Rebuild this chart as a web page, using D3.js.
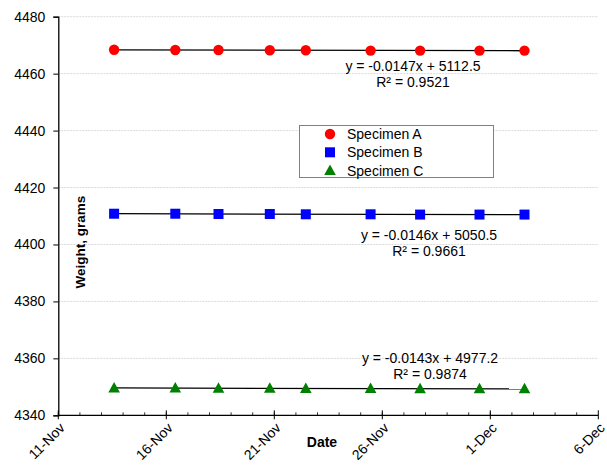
<!DOCTYPE html>
<html>
<head>
<meta charset="utf-8">
<script src="https://cdn.jsdelivr.net/npm/d3@7"></script>
<style>
  body { margin: 0; background: #fff; }
  svg { display: block; font-family: "Liberation Sans", Arial, sans-serif; }
</style>
</head>
<body>
<div id="chart"></div>
<script>
// measurement dates (with time of day)
const dates = ["2020-11-13T14:00", "2020-11-16T10:00", "2020-11-18T10:00", "2020-11-20T19:00",
  "2020-11-22T11:00", "2020-11-25T11:00", "2020-11-27T18:00", "2020-11-30T12:00", "2020-12-02T14:00"];

const specimenA = [4468.4, 4468.3, 4468.3, 4468.2, 4468.2, 4468.1, 4468.1, 4468.1, 4468.1];
const specimenB = [4410.8, 4410.8, 4410.7, 4410.7, 4410.6, 4410.6, 4410.5, 4410.5, 4410.5];
const specimenC = [4349.6, 4349.6, 4349.5, 4349.5, 4349.4, 4349.4, 4349.3, 4349.3, 4349.3];

const seriesNames = ["Specimen A", "Specimen B", "Specimen C"];
const equations = [
  ["y = -0.0147x + 5112.5", "R\u00b2 = 0.9521"],
  ["y = -0.0146x + 5050.5", "R\u00b2 = 0.9661"],
  ["y = -0.0143x + 4977.2", "R\u00b2 = 0.9874"]
];
const yTicks = [4340, 4360, 4380, 4400, 4420, 4440, 4460, 4480];
const xTickDates = ["2020-11-11", "2020-11-16", "2020-11-21", "2020-11-26", "2020-12-01", "2020-12-06"];

const width = 607;
const height = 468;
const parse = d3.timeParse("%Y-%m-%dT%H:%M");
const parseDay = d3.timeParse("%Y-%m-%d");

const x = d3.scaleTime()
  .domain([parseDay("2020-11-11"), parseDay("2020-12-06")])
  .range([58.3, 598.3]);
const y = d3.scaleLinear()
  .domain([4340, 4480])
  .range([415.3, 16.7]);

const svg = d3.select("#chart").append("svg")
  .attr("width", width)
  .attr("height", height);

// gridlines
svg.append("g")
  .selectAll("line")
  .data(yTicks.filter(d => d !== 4340))
  .join("line")
    .attr("x1", x.range()[0])
    .attr("x2", x.range()[1])
    .attr("y1", d => y(d))
    .attr("y2", d => y(d))
    .attr("stroke", "#d9d9d9")
    .attr("stroke-width", 1)
    .attr("stroke-dasharray", "2,1");

// y axis
const yAxis = svg.append("g")
  .attr("transform", `translate(${x.range()[0]},0)`)
  .call(d3.axisLeft(y).tickValues(yTicks).tickSize(5).tickPadding(8).tickFormat(d3.format("d")));
yAxis.select(".domain").attr("stroke", "#000").attr("stroke-width", 1.3);
yAxis.selectAll(".tick line").attr("stroke", "#000");
yAxis.selectAll("text").style("font-size", "14px").attr("fill", "#000");

// x axis: minor ticks each day (inside), major every 5 days (crossing)
const xg = svg.append("g").attr("transform", `translate(0,${y.range()[0]})`);
xg.selectAll("line.minor")
  .data(d3.timeDay.range(x.domain()[0], x.domain()[1]))
  .join("line")
    .attr("class", "minor")
    .attr("x1", d => x(d)).attr("x2", d => x(d))
    .attr("y1", 0).attr("y2", -3)
    .attr("stroke", "#000").attr("stroke-width", 0.8);
xg.append("line")
  .attr("x1", x.range()[0]).attr("x2", x.range()[1])
  .attr("stroke", "#000").attr("stroke-width", 1.3);
const majors = xTickDates.map(parseDay);
xg.selectAll("line.major")
  .data(majors)
  .join("line")
    .attr("class", "major")
    .attr("x1", d => x(d)).attr("x2", d => x(d))
    .attr("y1", -5).attr("y2", 4)
    .attr("stroke", "#000").attr("stroke-width", 1);
xg.selectAll("text")
  .data(majors)
  .join("text")
    .attr("transform", d => `translate(${x(d) + 4},${10}) rotate(-45)`)
    .attr("text-anchor", "end")
    .attr("dy", "0.35em")
    .style("font-size", "14px")
    .text(d3.timeFormat("%-d-%b"));

// axis titles
svg.append("text")
  .attr("x", 322).attr("y", 447)
  .attr("text-anchor", "middle")
  .style("font-size", "14px").style("font-weight", "bold")
  .text("Date");
svg.append("text")
  .attr("transform", "translate(85,242) rotate(-90)")
  .attr("text-anchor", "middle")
  .style("font-size", "13.5px").style("font-weight", "bold")
  .text("Weight, grams");

const allSeries = [specimenA, specimenB, specimenC].map((vals, i) => ({
  name: seriesNames[i],
  points: vals.map((v, j) => ({ date: parse(dates[j]), value: v }))
}));

// trendlines (least squares fit over the points)
allSeries.forEach(s => {
  const xs = s.points.map(p => +p.date);
  const ys = s.points.map(p => p.value);
  const mx = d3.mean(xs), my = d3.mean(ys);
  const slope = d3.sum(xs, (v, i) => (v - mx) * (ys[i] - my)) / d3.sum(xs, v => (v - mx) ** 2);
  const f = t => my + slope * (t - mx);
  const x0 = d3.min(xs), x1 = d3.max(xs);
  svg.append("line")
    .attr("x1", x(x0)).attr("x2", x(x1))
    .attr("y1", y(f(x0))).attr("y2", y(f(x1)))
    .attr("stroke", "#000").attr("stroke-width", 1.3);
});

// markers
const symbols = [
  { color: "#ff0000", draw: (g) => g.append("circle").attr("r", 5.2) },
  { color: "#0000ff", draw: (g) => g.append("rect").attr("x", -5).attr("y", -5).attr("width", 10).attr("height", 10) },
  { color: "#008000", draw: (g) => g.append("path").attr("d", "M0,-6L5.8,4.5L-5.8,4.5Z") }
];
allSeries.forEach((s, i) => {
  s.points.forEach(p => {
    const g = svg.append("g")
      .attr("transform", `translate(${x(p.date)},${y(p.value)})`)
      .attr("fill", symbols[i].color);
    symbols[i].draw(g);
  });
});

// trendline equations
const eqPos = [[413, 66], [429, 235], [430, 358]];
equations.forEach((eq, i) => {
  const t = svg.append("text")
    .attr("text-anchor", "middle")
    .style("font-size", "14px");
  t.append("tspan").attr("x", eqPos[i][0]).attr("y", eqPos[i][1]).attr("dy", "0.35em").text(eq[0]);
  t.append("tspan").attr("x", eqPos[i][0]).attr("y", eqPos[i][1] + 16.5).attr("dy", "0.35em").text(eq[1]);
});

// legend
const legend = svg.append("g");
legend.append("rect")
  .attr("x", 299.5).attr("y", 125.5)
  .attr("width", 194).attr("height", 52)
  .attr("fill", "#fff").attr("stroke", "#808080").attr("stroke-width", 1);
seriesNames.forEach((name, i) => {
  const ly = 134 + i * 18.3;
  const g = legend.append("g")
    .attr("transform", `translate(330,${ly})`)
    .attr("fill", symbols[i].color);
  symbols[i].draw(g);
  legend.append("text")
    .attr("x", 347).attr("y", ly).attr("dy", "0.35em")
    .style("font-size", "14px")
    .text(name);
});
</script>
</body>
</html>
